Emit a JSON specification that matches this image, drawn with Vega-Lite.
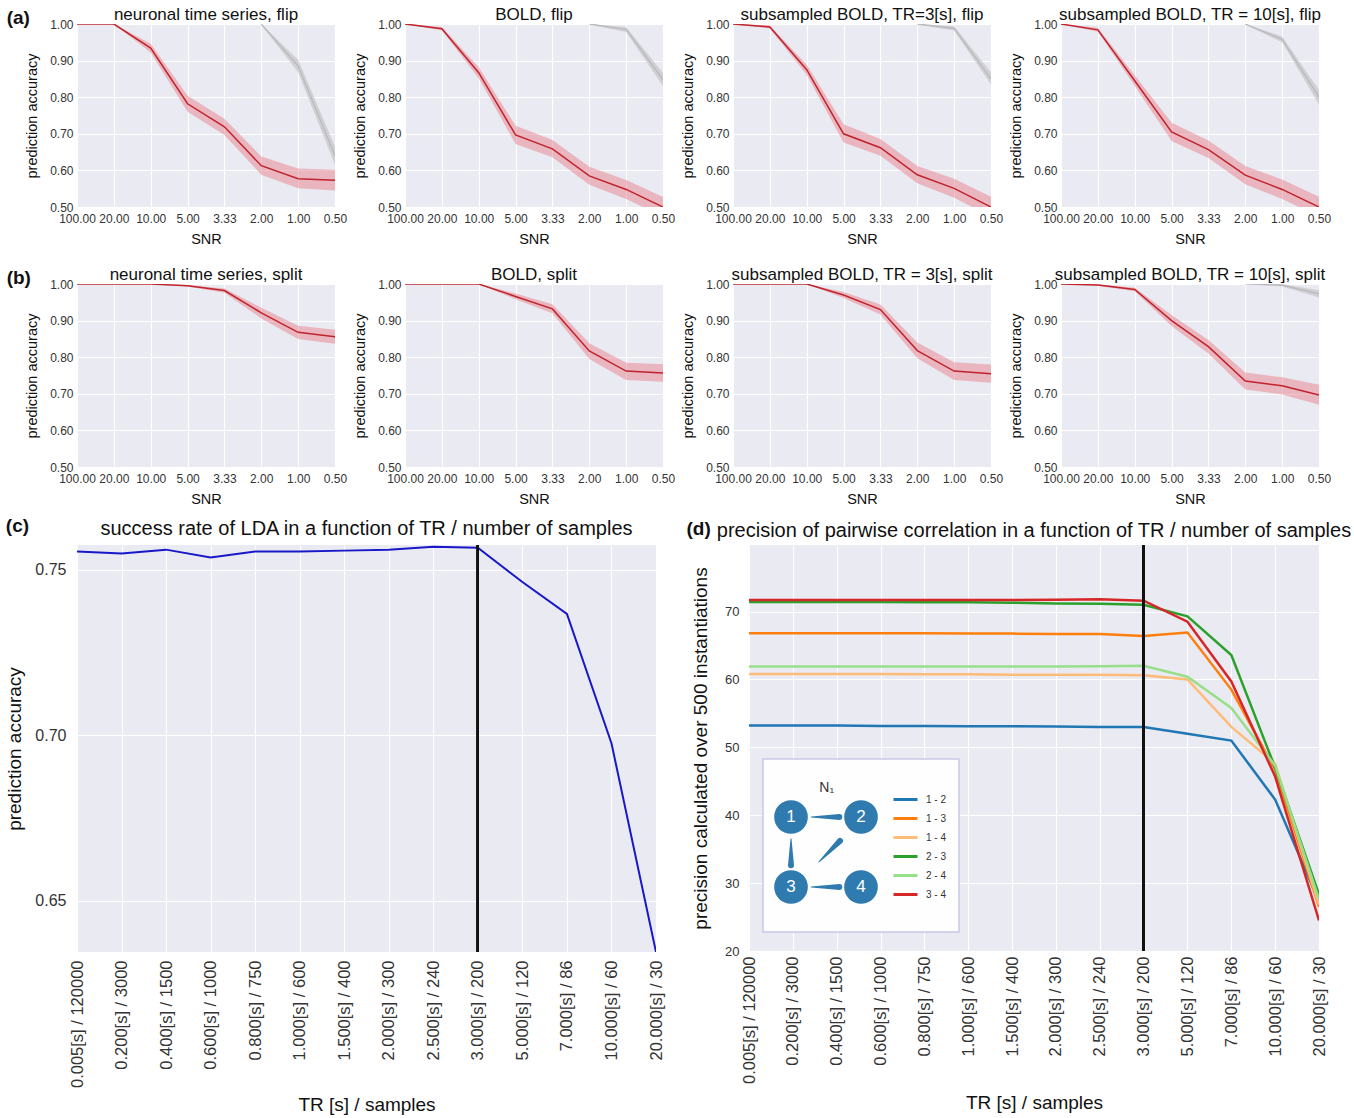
{
"$schema": "https://vega.github.io/schema/vega-lite/v6.json",
"padding": {"left": 5, "top": 6, "right": 2, "bottom": 0},
"background": "white",
"config": {
  "font": "Liberation Sans",
  "view": {"fill": "#EAEAF2", "stroke": null},
  "axis": {"grid": true, "gridColor": "white", "gridWidth": 1, "domain": false, "ticks": false, "labelColor": "#333333", "titleColor": "#111111", "labelFontSize": 12, "titleFontSize": 14.5, "titleFontWeight": "normal", "labelPadding": 4, "titlePadding": 6, "labelOverlap": false},
  "axisY": {"titlePadding": 10},
  "axisX": {"labelPadding": 6, "titlePadding": 8},
  "title": {"fontWeight": "normal", "color": "#111111"},
  "header": {"labelFontSize": 17, "labelColor": "#111111", "labelPadding": -6, "labelFont": "Liberation Sans"}
},
"datasets": {
  "snr": [
    {"r":"a","p":"neuronal time series, flip","s":"red","snr":"100.00","m":1,"lo":1,"hi":1},
    {"r":"a","p":"neuronal time series, flip","s":"red","snr":"20.00","m":1,"lo":1,"hi":1},
    {"r":"a","p":"neuronal time series, flip","s":"red","snr":"10.00","m":0.934,"lo":0.922,"hi":0.946},
    {"r":"a","p":"neuronal time series, flip","s":"red","snr":"5.00","m":0.782,"lo":0.760,"hi":0.804},
    {"r":"a","p":"neuronal time series, flip","s":"red","snr":"3.33","m":0.719,"lo":0.697,"hi":0.741},
    {"r":"a","p":"neuronal time series, flip","s":"red","snr":"2.00","m":0.613,"lo":0.588,"hi":0.638},
    {"r":"a","p":"neuronal time series, flip","s":"red","snr":"1.00","m":0.577,"lo":0.551,"hi":0.605},
    {"r":"a","p":"neuronal time series, flip","s":"red","snr":"0.50","m":0.573,"lo":0.545,"hi":0.602},
    {"r":"a","p":"neuronal time series, flip","s":"grey","snr":"2.00","m":1,"lo":0.997,"hi":1},
    {"r":"a","p":"neuronal time series, flip","s":"grey","snr":"1.00","m":0.885,"lo":0.868,"hi":0.902},
    {"r":"a","p":"neuronal time series, flip","s":"grey","snr":"0.50","m":0.64,"lo":0.615,"hi":0.665},
    {"r":"a","p":"BOLD, flip","s":"red","snr":"100.00","m":1,"lo":1,"hi":1},
    {"r":"a","p":"BOLD, flip","s":"red","snr":"20.00","m":0.987,"lo":0.983,"hi":0.992},
    {"r":"a","p":"BOLD, flip","s":"red","snr":"10.00","m":0.867,"lo":0.852,"hi":0.882},
    {"r":"a","p":"BOLD, flip","s":"red","snr":"5.00","m":0.697,"lo":0.672,"hi":0.722},
    {"r":"a","p":"BOLD, flip","s":"red","snr":"3.33","m":0.659,"lo":0.636,"hi":0.683},
    {"r":"a","p":"BOLD, flip","s":"red","snr":"2.00","m":0.585,"lo":0.561,"hi":0.610},
    {"r":"a","p":"BOLD, flip","s":"red","snr":"1.00","m":0.548,"lo":0.522,"hi":0.574},
    {"r":"a","p":"BOLD, flip","s":"red","snr":"0.50","m":0.500,"lo":0.474,"hi":0.527},
    {"r":"a","p":"BOLD, flip","s":"grey","snr":"2.00","m":1,"lo":0.998,"hi":1},
    {"r":"a","p":"BOLD, flip","s":"grey","snr":"1.00","m":0.985,"lo":0.978,"hi":0.992},
    {"r":"a","p":"BOLD, flip","s":"grey","snr":"0.50","m":0.848,"lo":0.830,"hi":0.866},
    {"r":"a","p":"subsampled BOLD, TR=3[s], flip","s":"red","snr":"100.00","m":1,"lo":1,"hi":1},
    {"r":"a","p":"subsampled BOLD, TR=3[s], flip","s":"red","snr":"20.00","m":0.992,"lo":0.988,"hi":0.996},
    {"r":"a","p":"subsampled BOLD, TR=3[s], flip","s":"red","snr":"10.00","m":0.875,"lo":0.861,"hi":0.889},
    {"r":"a","p":"subsampled BOLD, TR=3[s], flip","s":"red","snr":"5.00","m":0.700,"lo":0.676,"hi":0.726},
    {"r":"a","p":"subsampled BOLD, TR=3[s], flip","s":"red","snr":"3.33","m":0.662,"lo":0.640,"hi":0.686},
    {"r":"a","p":"subsampled BOLD, TR=3[s], flip","s":"red","snr":"2.00","m":0.588,"lo":0.565,"hi":0.612},
    {"r":"a","p":"subsampled BOLD, TR=3[s], flip","s":"red","snr":"1.00","m":0.551,"lo":0.525,"hi":0.577},
    {"r":"a","p":"subsampled BOLD, TR=3[s], flip","s":"red","snr":"0.50","m":0.500,"lo":0.474,"hi":0.528},
    {"r":"a","p":"subsampled BOLD, TR=3[s], flip","s":"grey","snr":"2.00","m":1,"lo":0.998,"hi":1},
    {"r":"a","p":"subsampled BOLD, TR=3[s], flip","s":"grey","snr":"1.00","m":0.988,"lo":0.982,"hi":0.994},
    {"r":"a","p":"subsampled BOLD, TR=3[s], flip","s":"grey","snr":"0.50","m":0.850,"lo":0.835,"hi":0.868},
    {"r":"a","p":"subsampled BOLD, TR = 10[s], flip","s":"red","snr":"100.00","m":1,"lo":1,"hi":1},
    {"r":"a","p":"subsampled BOLD, TR = 10[s], flip","s":"red","snr":"20.00","m":0.984,"lo":0.979,"hi":0.990},
    {"r":"a","p":"subsampled BOLD, TR = 10[s], flip","s":"red","snr":"10.00","m":0.845,"lo":0.831,"hi":0.860},
    {"r":"a","p":"subsampled BOLD, TR = 10[s], flip","s":"red","snr":"5.00","m":0.705,"lo":0.680,"hi":0.730},
    {"r":"a","p":"subsampled BOLD, TR = 10[s], flip","s":"red","snr":"3.33","m":0.657,"lo":0.634,"hi":0.682},
    {"r":"a","p":"subsampled BOLD, TR = 10[s], flip","s":"red","snr":"2.00","m":0.587,"lo":0.562,"hi":0.612},
    {"r":"a","p":"subsampled BOLD, TR = 10[s], flip","s":"red","snr":"1.00","m":0.548,"lo":0.522,"hi":0.575},
    {"r":"a","p":"subsampled BOLD, TR = 10[s], flip","s":"red","snr":"0.50","m":0.500,"lo":0.474,"hi":0.528},
    {"r":"a","p":"subsampled BOLD, TR = 10[s], flip","s":"grey","snr":"2.00","m":1,"lo":0.998,"hi":1},
    {"r":"a","p":"subsampled BOLD, TR = 10[s], flip","s":"grey","snr":"1.00","m":0.958,"lo":0.950,"hi":0.966},
    {"r":"a","p":"subsampled BOLD, TR = 10[s], flip","s":"grey","snr":"0.50","m":0.800,"lo":0.780,"hi":0.820},
    {"r":"b","p":"neuronal time series, split","s":"red","snr":"100.00","m":1,"lo":1,"hi":1},
    {"r":"b","p":"neuronal time series, split","s":"red","snr":"20.00","m":1,"lo":1,"hi":1},
    {"r":"b","p":"neuronal time series, split","s":"red","snr":"10.00","m":1,"lo":1,"hi":1},
    {"r":"b","p":"neuronal time series, split","s":"red","snr":"5.00","m":0.995,"lo":0.993,"hi":0.997},
    {"r":"b","p":"neuronal time series, split","s":"red","snr":"3.33","m":0.982,"lo":0.976,"hi":0.988},
    {"r":"b","p":"neuronal time series, split","s":"red","snr":"2.00","m":0.921,"lo":0.906,"hi":0.935},
    {"r":"b","p":"neuronal time series, split","s":"red","snr":"1.00","m":0.868,"lo":0.850,"hi":0.886},
    {"r":"b","p":"neuronal time series, split","s":"red","snr":"0.50","m":0.856,"lo":0.837,"hi":0.875},
    {"r":"b","p":"BOLD, split","s":"red","snr":"100.00","m":1,"lo":1,"hi":1},
    {"r":"b","p":"BOLD, split","s":"red","snr":"20.00","m":1,"lo":1,"hi":1},
    {"r":"b","p":"BOLD, split","s":"red","snr":"10.00","m":1,"lo":1,"hi":1},
    {"r":"b","p":"BOLD, split","s":"red","snr":"5.00","m":0.966,"lo":0.958,"hi":0.974},
    {"r":"b","p":"BOLD, split","s":"red","snr":"3.33","m":0.932,"lo":0.920,"hi":0.945},
    {"r":"b","p":"BOLD, split","s":"red","snr":"2.00","m":0.817,"lo":0.795,"hi":0.838},
    {"r":"b","p":"BOLD, split","s":"red","snr":"1.00","m":0.762,"lo":0.738,"hi":0.785},
    {"r":"b","p":"BOLD, split","s":"red","snr":"0.50","m":0.757,"lo":0.733,"hi":0.781},
    {"r":"b","p":"subsampled BOLD, TR = 3[s], split","s":"red","snr":"100.00","m":1,"lo":1,"hi":1},
    {"r":"b","p":"subsampled BOLD, TR = 3[s], split","s":"red","snr":"20.00","m":1,"lo":1,"hi":1},
    {"r":"b","p":"subsampled BOLD, TR = 3[s], split","s":"red","snr":"10.00","m":1,"lo":1,"hi":1},
    {"r":"b","p":"subsampled BOLD, TR = 3[s], split","s":"red","snr":"5.00","m":0.970,"lo":0.962,"hi":0.978},
    {"r":"b","p":"subsampled BOLD, TR = 3[s], split","s":"red","snr":"3.33","m":0.930,"lo":0.917,"hi":0.944},
    {"r":"b","p":"subsampled BOLD, TR = 3[s], split","s":"red","snr":"2.00","m":0.818,"lo":0.797,"hi":0.840},
    {"r":"b","p":"subsampled BOLD, TR = 3[s], split","s":"red","snr":"1.00","m":0.762,"lo":0.738,"hi":0.786},
    {"r":"b","p":"subsampled BOLD, TR = 3[s], split","s":"red","snr":"0.50","m":0.755,"lo":0.730,"hi":0.780},
    {"r":"b","p":"subsampled BOLD, TR = 10[s], split","s":"red","snr":"100.00","m":1,"lo":1,"hi":1},
    {"r":"b","p":"subsampled BOLD, TR = 10[s], split","s":"red","snr":"20.00","m":0.997,"lo":0.995,"hi":0.999},
    {"r":"b","p":"subsampled BOLD, TR = 10[s], split","s":"red","snr":"10.00","m":0.985,"lo":0.980,"hi":0.990},
    {"r":"b","p":"subsampled BOLD, TR = 10[s], split","s":"red","snr":"5.00","m":0.900,"lo":0.885,"hi":0.915},
    {"r":"b","p":"subsampled BOLD, TR = 10[s], split","s":"red","snr":"3.33","m":0.829,"lo":0.810,"hi":0.847},
    {"r":"b","p":"subsampled BOLD, TR = 10[s], split","s":"red","snr":"2.00","m":0.735,"lo":0.712,"hi":0.758},
    {"r":"b","p":"subsampled BOLD, TR = 10[s], split","s":"red","snr":"1.00","m":0.722,"lo":0.698,"hi":0.745},
    {"r":"b","p":"subsampled BOLD, TR = 10[s], split","s":"red","snr":"0.50","m":0.697,"lo":0.670,"hi":0.725},
    {"r":"b","p":"subsampled BOLD, TR = 10[s], split","s":"grey","snr":"2.00","m":1,"lo":1,"hi":1},
    {"r":"b","p":"subsampled BOLD, TR = 10[s], split","s":"grey","snr":"1.00","m":0.997,"lo":0.993,"hi":1},
    {"r":"b","p":"subsampled BOLD, TR = 10[s], split","s":"grey","snr":"0.50","m":0.973,"lo":0.963,"hi":0.983}
  ],
  "lda": [
    {"tr":"0.005[s] / 120000","acc":0.7555},
    {"tr":"0.200[s] / 3000","acc":0.7549},
    {"tr":"0.400[s] / 1500","acc":0.7561},
    {"tr":"0.600[s] / 1000","acc":0.7537},
    {"tr":"0.800[s] / 750","acc":0.7555},
    {"tr":"1.000[s] / 600","acc":0.7555},
    {"tr":"1.500[s] / 400","acc":0.7558},
    {"tr":"2.000[s] / 300","acc":0.7561},
    {"tr":"2.500[s] / 240","acc":0.7570},
    {"tr":"3.000[s] / 200","acc":0.7567},
    {"tr":"5.000[s] / 120","acc":0.7463},
    {"tr":"7.000[s] / 86","acc":0.7367},
    {"tr":"10.000[s] / 60","acc":0.6976},
    {"tr":"20.000[s] / 30","acc":0.6345}
  ],
  "corr": [
    {"pair":"1 - 2","tr":"0.005[s] / 120000","v":53.2},{"pair":"1 - 2","tr":"0.200[s] / 3000","v":53.2},{"pair":"1 - 2","tr":"0.400[s] / 1500","v":53.2},{"pair":"1 - 2","tr":"0.600[s] / 1000","v":53.15},{"pair":"1 - 2","tr":"0.800[s] / 750","v":53.15},{"pair":"1 - 2","tr":"1.000[s] / 600","v":53.1},{"pair":"1 - 2","tr":"1.500[s] / 400","v":53.1},{"pair":"1 - 2","tr":"2.000[s] / 300","v":53.05},{"pair":"1 - 2","tr":"2.500[s] / 240","v":53.0},{"pair":"1 - 2","tr":"3.000[s] / 200","v":53.0},{"pair":"1 - 2","tr":"5.000[s] / 120","v":52.0},{"pair":"1 - 2","tr":"7.000[s] / 86","v":51.0},{"pair":"1 - 2","tr":"10.000[s] / 60","v":42.3},{"pair":"1 - 2","tr":"20.000[s] / 30","v":27.3},
    {"pair":"1 - 3","tr":"0.005[s] / 120000","v":66.8},{"pair":"1 - 3","tr":"0.200[s] / 3000","v":66.8},{"pair":"1 - 3","tr":"0.400[s] / 1500","v":66.8},{"pair":"1 - 3","tr":"0.600[s] / 1000","v":66.8},{"pair":"1 - 3","tr":"0.800[s] / 750","v":66.8},{"pair":"1 - 3","tr":"1.000[s] / 600","v":66.75},{"pair":"1 - 3","tr":"1.500[s] / 400","v":66.75},{"pair":"1 - 3","tr":"2.000[s] / 300","v":66.7},{"pair":"1 - 3","tr":"2.500[s] / 240","v":66.7},{"pair":"1 - 3","tr":"3.000[s] / 200","v":66.4},{"pair":"1 - 3","tr":"5.000[s] / 120","v":66.9},{"pair":"1 - 3","tr":"7.000[s] / 86","v":58.5},{"pair":"1 - 3","tr":"10.000[s] / 60","v":46.7},{"pair":"1 - 3","tr":"20.000[s] / 30","v":26.5},
    {"pair":"1 - 4","tr":"0.005[s] / 120000","v":60.8},{"pair":"1 - 4","tr":"0.200[s] / 3000","v":60.8},{"pair":"1 - 4","tr":"0.400[s] / 1500","v":60.8},{"pair":"1 - 4","tr":"0.600[s] / 1000","v":60.8},{"pair":"1 - 4","tr":"0.800[s] / 750","v":60.75},{"pair":"1 - 4","tr":"1.000[s] / 600","v":60.75},{"pair":"1 - 4","tr":"1.500[s] / 400","v":60.7},{"pair":"1 - 4","tr":"2.000[s] / 300","v":60.7},{"pair":"1 - 4","tr":"2.500[s] / 240","v":60.7},{"pair":"1 - 4","tr":"3.000[s] / 200","v":60.6},{"pair":"1 - 4","tr":"5.000[s] / 120","v":60.0},{"pair":"1 - 4","tr":"7.000[s] / 86","v":53.0},{"pair":"1 - 4","tr":"10.000[s] / 60","v":47.6},{"pair":"1 - 4","tr":"20.000[s] / 30","v":26.8},
    {"pair":"2 - 3","tr":"0.005[s] / 120000","v":71.4},{"pair":"2 - 3","tr":"0.200[s] / 3000","v":71.4},{"pair":"2 - 3","tr":"0.400[s] / 1500","v":71.4},{"pair":"2 - 3","tr":"0.600[s] / 1000","v":71.4},{"pair":"2 - 3","tr":"0.800[s] / 750","v":71.35},{"pair":"2 - 3","tr":"1.000[s] / 600","v":71.35},{"pair":"2 - 3","tr":"1.500[s] / 400","v":71.3},{"pair":"2 - 3","tr":"2.000[s] / 300","v":71.2},{"pair":"2 - 3","tr":"2.500[s] / 240","v":71.15},{"pair":"2 - 3","tr":"3.000[s] / 200","v":71.0},{"pair":"2 - 3","tr":"5.000[s] / 120","v":69.3},{"pair":"2 - 3","tr":"7.000[s] / 86","v":63.6},{"pair":"2 - 3","tr":"10.000[s] / 60","v":47.0},{"pair":"2 - 3","tr":"20.000[s] / 30","v":28.3},
    {"pair":"2 - 4","tr":"0.005[s] / 120000","v":61.9},{"pair":"2 - 4","tr":"0.200[s] / 3000","v":61.9},{"pair":"2 - 4","tr":"0.400[s] / 1500","v":61.9},{"pair":"2 - 4","tr":"0.600[s] / 1000","v":61.9},{"pair":"2 - 4","tr":"0.800[s] / 750","v":61.9},{"pair":"2 - 4","tr":"1.000[s] / 600","v":61.9},{"pair":"2 - 4","tr":"1.500[s] / 400","v":61.9},{"pair":"2 - 4","tr":"2.000[s] / 300","v":61.9},{"pair":"2 - 4","tr":"2.500[s] / 240","v":61.95},{"pair":"2 - 4","tr":"3.000[s] / 200","v":62.0},{"pair":"2 - 4","tr":"5.000[s] / 120","v":60.4},{"pair":"2 - 4","tr":"7.000[s] / 86","v":55.8},{"pair":"2 - 4","tr":"10.000[s] / 60","v":47.3},{"pair":"2 - 4","tr":"20.000[s] / 30","v":27.6},
    {"pair":"3 - 4","tr":"0.005[s] / 120000","v":71.7},{"pair":"3 - 4","tr":"0.200[s] / 3000","v":71.7},{"pair":"3 - 4","tr":"0.400[s] / 1500","v":71.7},{"pair":"3 - 4","tr":"0.600[s] / 1000","v":71.7},{"pair":"3 - 4","tr":"0.800[s] / 750","v":71.7},{"pair":"3 - 4","tr":"1.000[s] / 600","v":71.7},{"pair":"3 - 4","tr":"1.500[s] / 400","v":71.7},{"pair":"3 - 4","tr":"2.000[s] / 300","v":71.75},{"pair":"3 - 4","tr":"2.500[s] / 240","v":71.8},{"pair":"3 - 4","tr":"3.000[s] / 200","v":71.6},{"pair":"3 - 4","tr":"5.000[s] / 120","v":68.5},{"pair":"3 - 4","tr":"7.000[s] / 86","v":59.7},{"pair":"3 - 4","tr":"10.000[s] / 60","v":45.7},{"pair":"3 - 4","tr":"20.000[s] / 30","v":24.5}
  ],
  "frame": [{"x0": -0.4, "x1": 2.4, "y0": -0.643, "y1": 1.829}],
  "nodes": [{"id":"1","gx":0,"gy":1},{"id":"2","gx":1,"gy":1},{"id":"3","gx":0,"gy":0},{"id":"4","gx":1,"gy":0}],
  "arrows": [
    {"a":"1→2","k":0,"gx":0.29,"gy":1},{"a":"1→2","k":1,"gx":0.69,"gy":1},
    {"a":"1→3","k":0,"gx":0,"gy":0.69},{"a":"1→3","k":1,"gx":0,"gy":0.31},
    {"a":"3→4","k":0,"gx":0.29,"gy":0},{"a":"3→4","k":1,"gx":0.69,"gy":0},
    {"a":"3→2","k":0,"gx":0.4,"gy":0.36},{"a":"3→2","k":1,"gx":0.7,"gy":0.66}
  ],
  "caption": [{"t":"N₁","gx":0.51,"gy":1.41}]
},
"spacing": 11,
"resolve": {"legend": {"color": "independent"}},
"vconcat": [
  {
    "spacing": 20,
    "vconcat": [
      {
        "data": {"name": "snr"},
        "transform": [{"filter": "datum.r == 'a'"}],
        "title": {"text": "(a)", "anchor": "start", "fontSize": 19, "fontWeight": "bold", "offset": -22, "dx": -18},
        "facet": {"column": {"field": "p", "type": "nominal", "title": null, "sort": ["neuronal time series, flip", "BOLD, flip", "subsampled BOLD, TR=3[s], flip", "subsampled BOLD, TR = 10[s], flip"]}},
        "spacing": 5,
        "resolve": {"axis": {"x": "independent", "y": "independent"}},
        "spec": {
          "width": 258, "height": 183,
          "encoding": {
            "x": {"field": "snr", "type": "nominal", "title": "SNR", "scale": {"type": "point", "padding": 0, "domain": ["100.00","20.00","10.00","5.00","3.33","2.00","1.00","0.50"]}, "axis": {"labelAngle": 0, "labelOverlap": false}}
          },
          "layer": [
            {"transform": [{"filter": "datum.s == 'red'"}], "mark": {"type": "area", "color": "#e8828c", "opacity": 0.5, "clip": true}, "encoding": {"y": {"field": "lo", "type": "quantitative", "title": "prediction accuracy", "scale": {"domain": [0.5, 1.0], "nice": false, "zero": false}, "axis": {"values": [0.5,0.6,0.7,0.8,0.9,1.0], "format": ".2f", "labelOverlap": false, "labelBound": false, "labelSeparation": 0}}, "y2": {"field": "hi"}}},
            {"transform": [{"filter": "datum.s == 'grey'"}], "mark": {"type": "area", "color": "#c4c4c8", "opacity": 0.7, "clip": true}, "encoding": {"y": {"field": "lo", "type": "quantitative", "title": "prediction accuracy", "axis": {"values": [0.5,0.6,0.7,0.8,0.9,1.0], "format": ".2f", "labelOverlap": false, "labelBound": false, "labelSeparation": 0}}, "y2": {"field": "hi"}}},
            {"transform": [{"filter": "datum.s == 'grey'"}], "mark": {"type": "line", "color": "#b8b8bc", "strokeWidth": 1.2, "clip": true}, "encoding": {"y": {"field": "m", "type": "quantitative", "title": "prediction accuracy", "axis": {"values": [0.5,0.6,0.7,0.8,0.9,1.0], "format": ".2f", "labelOverlap": false, "labelBound": false, "labelSeparation": 0}}}},
            {"transform": [{"filter": "datum.s == 'red'"}], "mark": {"type": "line", "color": "#c0232c", "strokeWidth": 1.5, "clip": true}, "encoding": {"y": {"field": "m", "type": "quantitative", "title": "prediction accuracy", "axis": {"values": [0.5,0.6,0.7,0.8,0.9,1.0], "format": ".2f", "labelOverlap": false, "labelBound": false, "labelSeparation": 0}}}}
          ]
        }
      },
      {
        "data": {"name": "snr"},
        "transform": [{"filter": "datum.r == 'b'"}],
        "title": {"text": "(b)", "anchor": "start", "fontSize": 19, "fontWeight": "bold", "offset": -22, "dx": -18},
        "facet": {"column": {"field": "p", "type": "nominal", "title": null, "sort": ["neuronal time series, split", "BOLD, split", "subsampled BOLD, TR = 3[s], split", "subsampled BOLD, TR = 10[s], split"]}},
        "spacing": 5,
        "resolve": {"axis": {"x": "independent", "y": "independent"}},
        "spec": {
          "width": 258, "height": 183,
          "encoding": {
            "x": {"field": "snr", "type": "nominal", "title": "SNR", "scale": {"type": "point", "padding": 0, "domain": ["100.00","20.00","10.00","5.00","3.33","2.00","1.00","0.50"]}, "axis": {"labelAngle": 0, "labelOverlap": false}}
          },
          "layer": [
            {"transform": [{"filter": "datum.s == 'red'"}], "mark": {"type": "area", "color": "#e8828c", "opacity": 0.5, "clip": true}, "encoding": {"y": {"field": "lo", "type": "quantitative", "title": "prediction accuracy", "scale": {"domain": [0.5, 1.0], "nice": false, "zero": false}, "axis": {"values": [0.5,0.6,0.7,0.8,0.9,1.0], "format": ".2f", "labelOverlap": false, "labelBound": false, "labelSeparation": 0}}, "y2": {"field": "hi"}}},
            {"transform": [{"filter": "datum.s == 'grey'"}], "mark": {"type": "area", "color": "#c4c4c8", "opacity": 0.7, "clip": true}, "encoding": {"y": {"field": "lo", "type": "quantitative", "title": "prediction accuracy", "axis": {"values": [0.5,0.6,0.7,0.8,0.9,1.0], "format": ".2f", "labelOverlap": false, "labelBound": false, "labelSeparation": 0}}, "y2": {"field": "hi"}}},
            {"transform": [{"filter": "datum.s == 'grey'"}], "mark": {"type": "line", "color": "#b8b8bc", "strokeWidth": 1.2, "clip": true}, "encoding": {"y": {"field": "m", "type": "quantitative", "title": "prediction accuracy", "axis": {"values": [0.5,0.6,0.7,0.8,0.9,1.0], "format": ".2f", "labelOverlap": false, "labelBound": false, "labelSeparation": 0}}}},
            {"transform": [{"filter": "datum.s == 'red'"}], "mark": {"type": "line", "color": "#c0232c", "strokeWidth": 1.5, "clip": true}, "encoding": {"y": {"field": "m", "type": "quantitative", "title": "prediction accuracy", "axis": {"values": [0.5,0.6,0.7,0.8,0.9,1.0], "format": ".2f", "labelOverlap": false, "labelBound": false, "labelSeparation": 0}}}}
          ]
        }
      }
    ]
  },
  {
    "spacing": 21,
    "resolve": {"legend": {"color": "independent"}},
    "hconcat": [
      {
        "title": {"text": "(c)", "anchor": "start", "fontSize": 19, "fontWeight": "bold", "offset": -17, "dx": 0},
        "vconcat": [{
          "width": 579, "height": 407,
          "title": {"text": "success rate of LDA in a function of TR / number of samples", "fontSize": 20, "offset": 5},
          "data": {"name": "lda"},
          "encoding": {"x": {"field": "tr", "type": "nominal", "title": "TR [s] / samples", "scale": {"type": "point", "padding": 0, "domain": ["0.005[s] / 120000","0.200[s] / 3000","0.400[s] / 1500","0.600[s] / 1000","0.800[s] / 750","1.000[s] / 600","1.500[s] / 400","2.000[s] / 300","2.500[s] / 240","3.000[s] / 200","5.000[s] / 120","7.000[s] / 86","10.000[s] / 60","20.000[s] / 30"]}, "axis": {"labelAngle": -90, "labelFontSize": 16.5, "titleFontSize": 19, "labelPadding": 8, "titlePadding": 8}}},
          "layer": [
            {"mark": {"type": "line", "color": "#1818c8", "strokeWidth": 2, "clip": true}, "encoding": {"y": {"field": "acc", "type": "quantitative", "title": "prediction accuracy", "scale": {"domain": [0.6345, 0.7575], "nice": false, "zero": false}, "axis": {"values": [0.65, 0.70, 0.75], "format": ".2f", "labelFontSize": 16, "titleFontSize": 19, "labelPadding": 11, "titlePadding": 10}}}},
            {"mark": {"type": "rule", "color": "#111111", "strokeWidth": 2}, "encoding": {"x": {"datum": "3.000[s] / 200"}}}
          ]
        }]
      },
      {
        "title": {"text": "(d)", "anchor": "start", "fontSize": 19, "fontWeight": "bold", "offset": -18, "dx": -5},
        "resolve": {"legend": {"color": "independent"}},
        "vconcat": [{
          "width": 570, "height": 406,
          "title": {"text": "precision of pairwise correlation in a function of TR / number of samples", "fontSize": 20, "offset": 3},
          "layer": [
            {
              "data": {"name": "corr"},
              "encoding": {"x": {"field": "tr", "type": "nominal", "title": "TR [s] / samples", "scale": {"type": "point", "padding": 0, "domain": ["0.005[s] / 120000","0.200[s] / 3000","0.400[s] / 1500","0.600[s] / 1000","0.800[s] / 750","1.000[s] / 600","1.500[s] / 400","2.000[s] / 300","2.500[s] / 240","3.000[s] / 200","5.000[s] / 120","7.000[s] / 86","10.000[s] / 60","20.000[s] / 30"]}, "axis": {"labelAngle": -90, "labelFontSize": 16.5, "titleFontSize": 19, "labelPadding": 5, "titlePadding": 10}}},
              "layer": [
                {"mark": {"type": "line", "strokeWidth": 2.5, "clip": true}, "encoding": {
                  "y": {"field": "v", "type": "quantitative", "title": "precision calculated over 500 instantiations", "scale": {"domain": [20, 79.8], "nice": false, "zero": false}, "axis": {"values": [20,30,40,50,60,70], "labelFontSize": 13, "titleFontSize": 19, "labelPadding": 10, "titlePadding": 14}},
                  "color": {"field": "pair", "type": "nominal", "scale": {"domain": ["1 - 2","1 - 3","1 - 4","2 - 3","2 - 4","3 - 4"], "range": ["#1f77b4","#ff7f0e","#ffbb78","#2ca02c","#98df8a","#d62728"]},
                    "legend": {"title": null, "orient": "none", "legendX": 143, "legendY": 245, "symbolType": "stroke", "symbolStrokeWidth": 3, "symbolSize": 576, "clipHeight": 19, "rowPadding": 0, "labelFontSize": 10, "labelColor": "#333333", "labelOffset": 7, "padding": 0}}
                }},
                {"mark": {"type": "rule", "color": "#111111", "strokeWidth": 2}, "encoding": {"x": {"datum": "3.000[s] / 200"}}}
              ]
            },
            {
              "layer": [
                {"data": {"name": "frame"}, "mark": {"type": "rect", "fill": "white", "fillOpacity": 0.93, "stroke": "#c8c8e8", "strokeWidth": 1.5},
                  "encoding": {"x": {"field": "x0", "type": "quantitative", "scale": {"domain": [-0.6, 7.543], "nice": false, "zero": false}, "axis": null}, "x2": {"field": "x1"}, "y": {"field": "y0", "type": "quantitative", "scale": {"domain": [-0.914, 4.886], "nice": false, "zero": false}, "axis": null}, "y2": {"field": "y1"}}},
                {"data": {"name": "arrows"}, "mark": {"type": "trail", "color": "#2f7bb0"},
                  "encoding": {"x": {"field": "gx", "type": "quantitative", "scale": {"domain": [-0.6, 7.543], "nice": false, "zero": false}, "axis": null}, "y": {"field": "gy", "type": "quantitative", "scale": {"domain": [-0.914, 4.886], "nice": false, "zero": false}, "axis": null}, "detail": {"field": "a"}, "order": {"field": "k"}, "size": {"field": "k", "type": "quantitative", "scale": {"domain": [0, 1], "range": [1, 6]}, "legend": null}}},
                {"data": {"name": "nodes"}, "mark": {"type": "circle", "size": 1134, "color": "#2f7bb0", "opacity": 1},
                  "encoding": {"x": {"field": "gx", "type": "quantitative", "scale": {"domain": [-0.6, 7.543], "nice": false, "zero": false}, "axis": null}, "y": {"field": "gy", "type": "quantitative", "scale": {"domain": [-0.914, 4.886], "nice": false, "zero": false}, "axis": null}}},
                {"data": {"name": "nodes"}, "mark": {"type": "text", "color": "white", "fontSize": 17},
                  "encoding": {"x": {"field": "gx", "type": "quantitative", "scale": {"domain": [-0.6, 7.543], "nice": false, "zero": false}, "axis": null}, "y": {"field": "gy", "type": "quantitative", "scale": {"domain": [-0.914, 4.886], "nice": false, "zero": false}, "axis": null}, "text": {"field": "id"}}},
                {"data": {"name": "caption"}, "mark": {"type": "text", "color": "#333333", "fontSize": 14},
                  "encoding": {"x": {"field": "gx", "type": "quantitative", "scale": {"domain": [-0.6, 7.543], "nice": false, "zero": false}, "axis": null}, "y": {"field": "gy", "type": "quantitative", "scale": {"domain": [-0.914, 4.886], "nice": false, "zero": false}, "axis": null}, "text": {"field": "t"}}}
              ]
            }
          ],
          "resolve": {"scale": {"x": "independent", "y": "independent"}}
        }]
      }
    ]
  }
]
}
